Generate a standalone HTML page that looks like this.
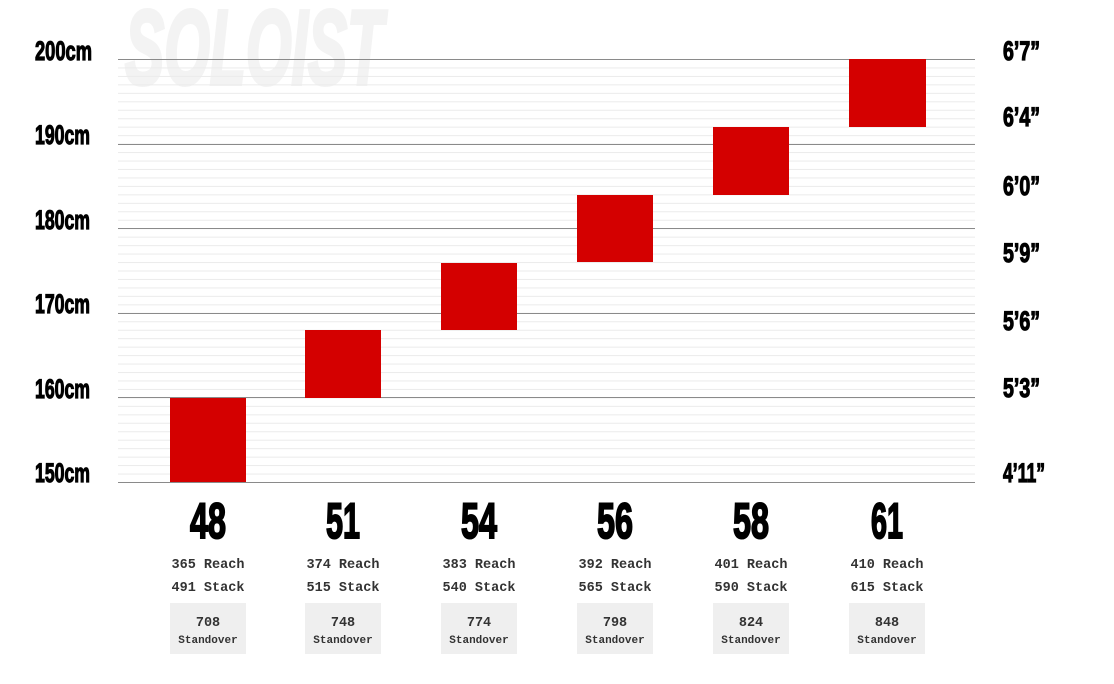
<!DOCTYPE html>
<html><head><meta charset="utf-8"><style>
html,body{margin:0;padding:0;background:#fff;}
svg{display:block}
</style></head><body>
<svg width="1114" height="684" viewBox="0 0 1114 684" xmlns="http://www.w3.org/2000/svg">
<defs>
<pattern id="minor" x="0" y="59" width="20" height="8.46" patternUnits="userSpaceOnUse">
<rect x="0" y="0" width="20" height="1" fill="#ebebeb"/>
</pattern>
</defs>
<text x="125" y="84" font-family="Liberation Sans, sans-serif" font-weight="bold" font-style="italic" font-size="106" fill="#f3f3f3" stroke="#f3f3f3" stroke-width="4" textLength="258" lengthAdjust="spacingAndGlyphs">SOLOIST</text>
<rect x="118" y="59" width="857" height="424" fill="url(#minor)"/>
<g stroke="#8a8a8a" stroke-width="1">
<line x1="118" x2="975" y1="59.5" y2="59.5"/>
<line x1="118" x2="975" y1="144.5" y2="144.5"/>
<line x1="118" x2="975" y1="228.5" y2="228.5"/>
<line x1="118" x2="975" y1="313.5" y2="313.5"/>
<line x1="118" x2="975" y1="397.5" y2="397.5"/>
<line x1="118" x2="975" y1="482.5" y2="482.5"/>
</g>
<g font-family="Liberation Sans, sans-serif" font-weight="bold" font-size="27" fill="#000" stroke="#000" stroke-width="1.2">
<text x="35" y="60" textLength="57" lengthAdjust="spacingAndGlyphs">200cm</text>
<text x="35" y="144" textLength="55" lengthAdjust="spacingAndGlyphs">190cm</text>
<text x="35" y="229" textLength="55" lengthAdjust="spacingAndGlyphs">180cm</text>
<text x="35" y="313" textLength="55" lengthAdjust="spacingAndGlyphs">170cm</text>
<text x="35" y="398" textLength="55" lengthAdjust="spacingAndGlyphs">160cm</text>
<text x="35" y="482" textLength="55" lengthAdjust="spacingAndGlyphs">150cm</text>
<text x="1003" y="60" textLength="37" lengthAdjust="spacingAndGlyphs">6’7”</text>
<text x="1003" y="126" textLength="37" lengthAdjust="spacingAndGlyphs">6’4”</text>
<text x="1003" y="195" textLength="37" lengthAdjust="spacingAndGlyphs">6’0”</text>
<text x="1003" y="262" textLength="37" lengthAdjust="spacingAndGlyphs">5’9”</text>
<text x="1003" y="330" textLength="37" lengthAdjust="spacingAndGlyphs">5’6”</text>
<text x="1003" y="397" textLength="37" lengthAdjust="spacingAndGlyphs">5’3”</text>
<text x="1003" y="482" textLength="42" lengthAdjust="spacingAndGlyphs">4’11”</text>
</g>
<g fill="#d40000">
<rect x="170" y="398" width="76" height="84"/>
<rect x="305" y="330" width="76" height="68"/>
<rect x="441" y="263" width="76" height="67"/>
<rect x="577" y="195" width="76" height="67"/>
<rect x="713" y="127" width="76" height="68"/>
<rect x="849" y="59" width="77" height="68"/>
</g>
<g font-family="Liberation Sans, sans-serif" font-weight="bold" font-size="50" text-anchor="middle" fill="#000" stroke="#000" stroke-width="2">
<text x="208" y="538" textLength="36" lengthAdjust="spacingAndGlyphs">48</text>
<text x="343" y="538" textLength="34" lengthAdjust="spacingAndGlyphs">51</text>
<text x="479" y="538" textLength="36" lengthAdjust="spacingAndGlyphs">54</text>
<text x="615" y="538" textLength="36" lengthAdjust="spacingAndGlyphs">56</text>
<text x="751" y="538" textLength="36" lengthAdjust="spacingAndGlyphs">58</text>
<text x="887" y="538" textLength="32" lengthAdjust="spacingAndGlyphs">61</text>
</g>
<g fill="#efefef">
<rect x="170" y="603" width="76" height="51"/>
<rect x="305" y="603" width="76" height="51"/>
<rect x="441" y="603" width="76" height="51"/>
<rect x="577" y="603" width="76" height="51"/>
<rect x="713" y="603" width="76" height="51"/>
<rect x="849" y="603" width="76" height="51"/>
</g>
<g font-family="Liberation Mono, monospace" font-weight="bold" font-size="13.5" text-anchor="middle" fill="#333">
<text x="208" y="568">365 Reach</text><text x="208" y="591">491 Stack</text><text x="208" y="626">708</text>
<text x="343" y="568">374 Reach</text><text x="343" y="591">515 Stack</text><text x="343" y="626">748</text>
<text x="479" y="568">383 Reach</text><text x="479" y="591">540 Stack</text><text x="479" y="626">774</text>
<text x="615" y="568">392 Reach</text><text x="615" y="591">565 Stack</text><text x="615" y="626">798</text>
<text x="751" y="568">401 Reach</text><text x="751" y="591">590 Stack</text><text x="751" y="626">824</text>
<text x="887" y="568">410 Reach</text><text x="887" y="591">615 Stack</text><text x="887" y="626">848</text>
</g>
<g font-family="Liberation Mono, monospace" font-weight="bold" font-size="11" text-anchor="middle" fill="#333">
<text x="208" y="643">Standover</text>
<text x="343" y="643">Standover</text>
<text x="479" y="643">Standover</text>
<text x="615" y="643">Standover</text>
<text x="751" y="643">Standover</text>
<text x="887" y="643">Standover</text>
</g>
</svg>
</body></html>
